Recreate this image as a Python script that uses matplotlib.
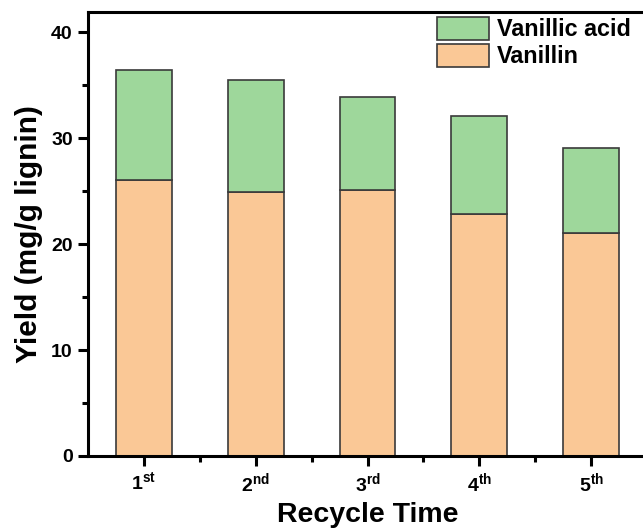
import matplotlib
matplotlib.use('Agg')
import matplotlib.pyplot as plt
import numpy as np
from matplotlib.ticker import MultipleLocator, FixedLocator

# Data
cycle_nums = ['1', '2', '3', '4', '5']
cycle_sups = ['st', 'nd', 'rd', 'th', 'th']
vanillin = [26.0, 24.9, 25.1, 22.8, 21.05]
vanillic_acid = [10.4, 10.55, 8.8, 9.3, 8.0]

plt.rcParams['font.family'] = ['Liberation Sans', 'DejaVu Sans']
plt.rcParams['font.weight'] = 'bold'
plt.rcParams['mathtext.fontset'] = 'custom'
plt.rcParams['mathtext.rm'] = 'Liberation Sans:bold'
plt.rcParams['mathtext.bf'] = 'Liberation Sans:bold'
plt.rcParams['mathtext.it'] = 'Liberation Sans:bold'

fig = plt.figure(figsize=(6.43, 5.28), dpi=100)
ax = fig.add_axes([88/643, 72/528, (647-88)/643, (456-12)/528])

x = np.arange(1, len(vanillin) + 1)
c_van = '#FAC896'
c_acid = '#9ED79B'
edge = '#3a3a3a'
b1 = ax.bar(x, vanillin, 0.5, color=c_van, edgecolor=edge, linewidth=1.2, label='Vanillin')
b2 = ax.bar(x, vanillic_acid, 0.5, bottom=vanillin, color=c_acid, edgecolor=edge,
            linewidth=1.2, label='Vanillic acid')

ax.set_xlim(0.5, 5.5)
ax.set_ylim(0, 41.9)

ax.set_xticks(x)
ax.set_xticklabels([r'$\mathbf{%s}^{\mathbf{%s}}$' % (n, s) for n, s in zip(cycle_nums, cycle_sups)],
                   fontsize=14)
ax.xaxis.set_minor_locator(FixedLocator(x[:-1] + 0.5))
ax.yaxis.set_major_locator(MultipleLocator(10))
ax.yaxis.set_minor_locator(MultipleLocator(5))
for lab in ax.get_yticklabels():
    lab.set_fontsize(14)
    lab.set_fontweight('bold')

ax.tick_params(axis='both', which='major', direction='out', length=7, width=2.2, pad=4)
ax.tick_params(axis='both', which='minor', direction='out', length=4, width=2.2)
for sp in ax.spines.values():
    sp.set_linewidth(2.2)

ax.set_xlabel('Recycle Time', fontsize=20.5, fontweight='bold')
ax.xaxis.label.set_va('baseline')
ax.xaxis.set_label_coords(0.5, (456 - 522) / 444)
ax.set_ylabel('Yield (mg/g lignin)', fontsize=21.5, fontweight='bold')
ax.yaxis.label.set_va('center')
ax.yaxis.set_label_coords((29 - 88) / 559, 0.5)

leg = fig.legend(handles=[b2, b1], labels=['Vanillic acid', 'Vanillin'],
                 loc='upper left', bbox_to_anchor=(437/643, 1 - 17/528),
                 frameon=False, fontsize=16.8, handlelength=2.24, handleheight=1.12,
                 labelspacing=0.12, handletextpad=0.34, borderpad=0, borderaxespad=0)
for t in leg.get_texts():
    t.set_fontweight('bold')

fig.savefig('out.png', dpi=100)
